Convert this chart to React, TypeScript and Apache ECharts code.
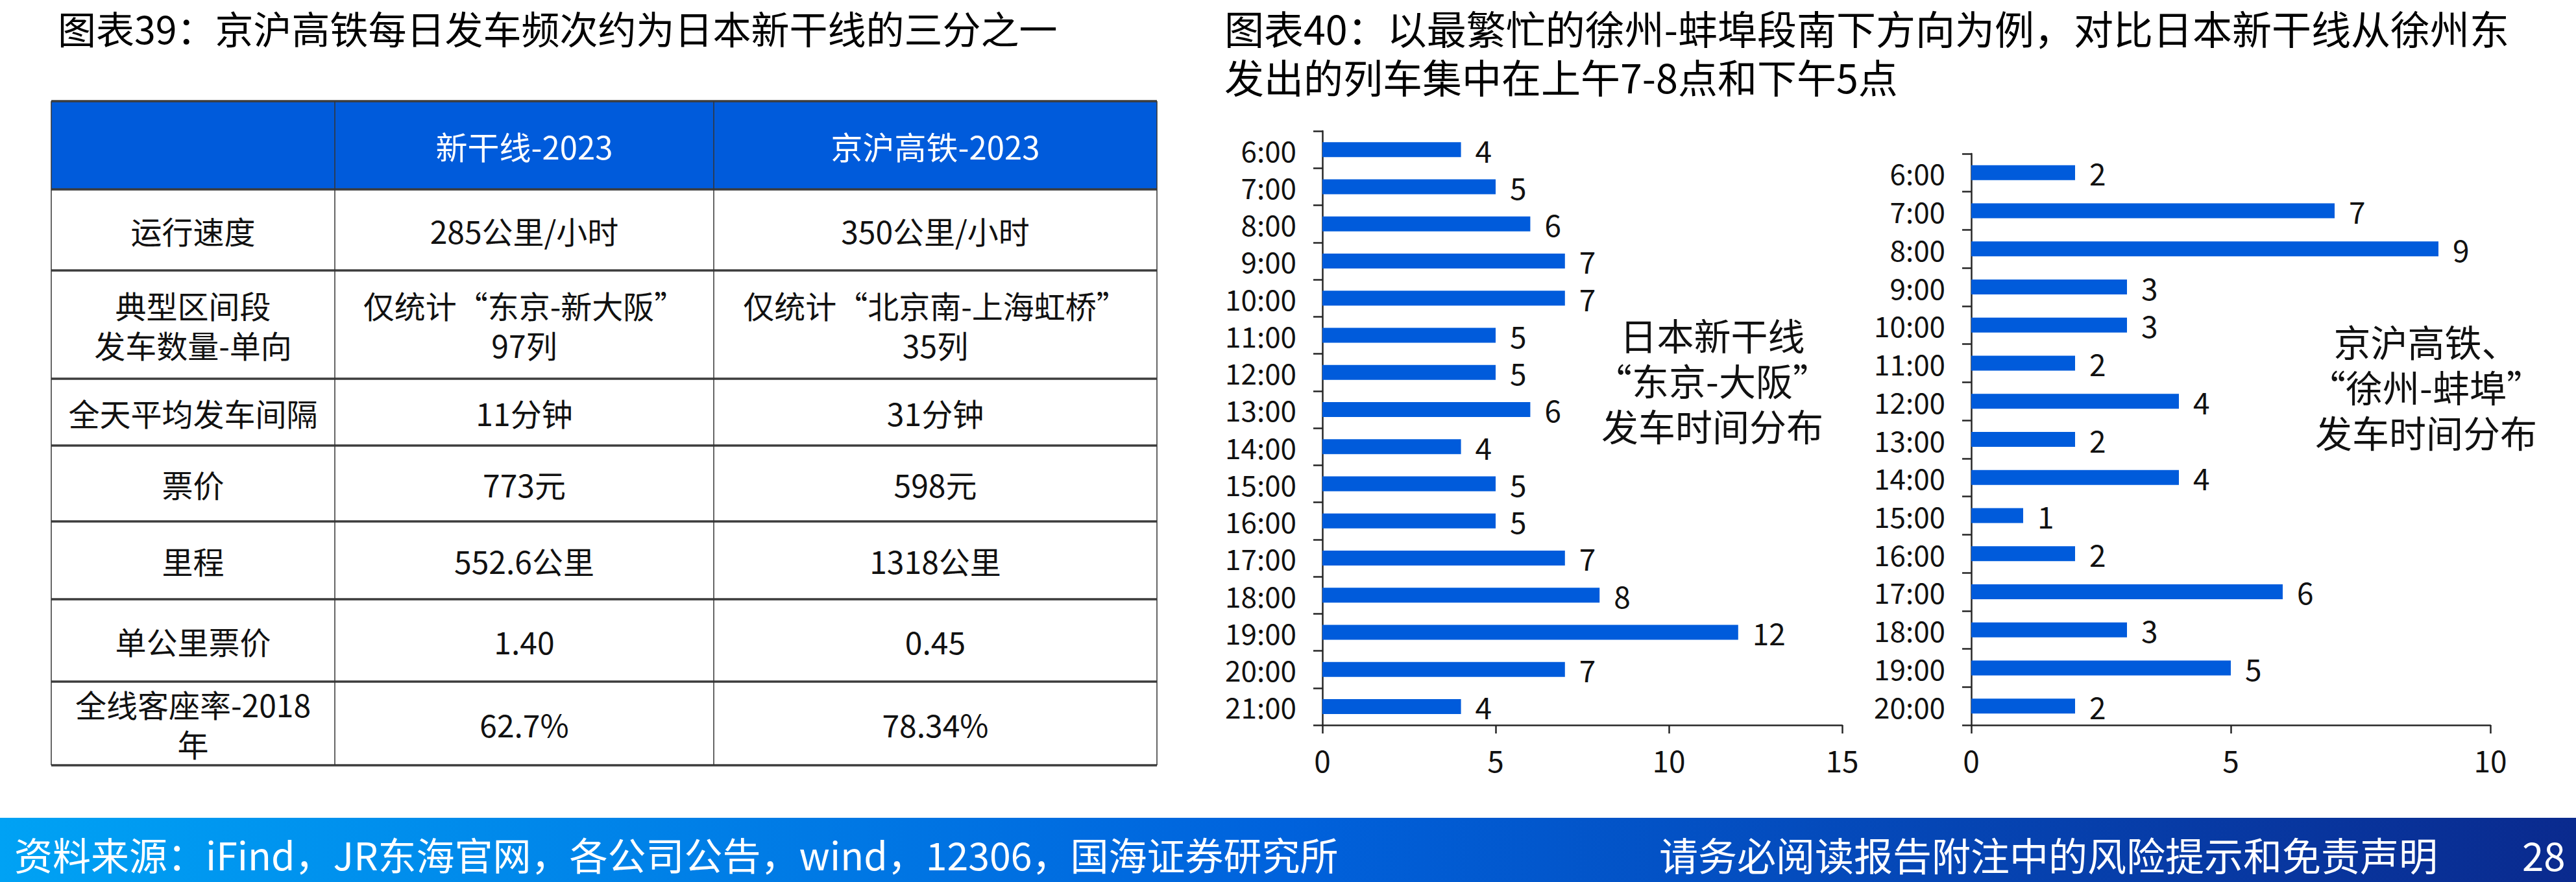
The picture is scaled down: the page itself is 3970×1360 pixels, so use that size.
import React, { useEffect, useRef } from 'react';
import * as echarts from 'echarts';

const titleLeft = '图表39：京沪高铁每日发车频次约为日本新干线的三分之一';
const titleRightLines = [
  '图表40：以最繁忙的徐州-蚌埠段南下方向为例，对比日本新干线从徐州东',
  '发出的列车集中在上午7-8点和下午5点',
];

const tableHeader = ['', '新干线-2023', '京沪高铁-2023'];
const tableRowLabels = [
  '运行速度',
  '典型区间段\n发车数量-单向',
  '全天平均发车间隔',
  '票价',
  '里程',
  '单公里票价',
  '全线客座率-2018\n年',
];
const shinkansenColumn = ['285公里/小时', '仅统计“东京-新大阪”\n97列', '11分钟', '773元', '552.6公里', '1.40', '62.7%'];
const jinghuColumn = ['350公里/小时', '仅统计“北京南-上海虹桥”\n35列', '31分钟', '598元', '1318公里', '0.45', '78.34%'];

const shinkansenHours = ['6:00', '7:00', '8:00', '9:00', '10:00', '11:00', '12:00', '13:00', '14:00', '15:00', '16:00', '17:00', '18:00', '19:00', '20:00', '21:00'];
const shinkansenTrains = [4, 5, 6, 7, 7, 5, 5, 6, 4, 5, 5, 7, 8, 12, 7, 4];
const jinghuHours = ['6:00', '7:00', '8:00', '9:00', '10:00', '11:00', '12:00', '13:00', '14:00', '15:00', '16:00', '17:00', '18:00', '19:00', '20:00'];
const jinghuTrains = [2, 7, 9, 3, 3, 2, 4, 2, 4, 1, 2, 6, 3, 5, 2];

const annotationLeft = ['日本新干线', '“东京-大阪”', '发车时间分布'];
const annotationRight = ['京沪高铁、', '“徐州-蚌埠”', '发车时间分布'];
const footerSource = '资料来源：iFind，JR东海官网，各公司公告，wind，12306，国海证券研究所';
const footerNotice = '请务必阅读报告附注中的风险提示和免责声明';
const pageNumber = '28';

const FONT = '"Noto Sans CJK SC", "Noto Sans", sans-serif';
const BLUE = '#005BDB';

function txt(text: string, x: number, y: number, size: number, fill: string, align = 'center', vAlign = 'middle') {
  return {
    type: 'text',
    silent: true,
    style: {
      text,
      x,
      y,
      fill,
      fontSize: size,
      fontFamily: FONT,
      align,
      textAlign: align,
      verticalAlign: vAlign,
      textVerticalAlign: vAlign,
      lineHeight: size,
    },
  };
}

// multi-line text as separate line elements centred on y
function multi(text: string, x: number, y: number, size: number, fill: string, spacing: number) {
  const lines = text.split('\n');
  const start = y - ((lines.length - 1) * spacing) / 2;
  return lines.map((l, i) => txt(l, x, start + i * spacing, size, fill));
}

function buildTable() {
  const colX = [79, 516, 1100, 1783];
  const rowY = [156, 292, 417, 584, 687, 804, 924, 1051, 1180];
  const els: any[] = [];
  els.push({
    type: 'rect',
    silent: true,
    shape: { x: colX[0], y: rowY[0], width: colX[3] - colX[0], height: rowY[1] - rowY[0] },
    style: { fill: BLUE },
  });
  rowY.forEach((y) => {
    els.push({
      type: 'line',
      silent: true,
      shape: { x1: colX[0], y1: y, x2: colX[3], y2: y },
      style: { stroke: '#3c3c3c', lineWidth: 3.5 },
    });
  });
  colX.forEach((x) => {
    els.push({
      type: 'line',
      silent: true,
      shape: { x1: x, y1: rowY[0], x2: x, y2: rowY[rowY.length - 1] },
      style: { stroke: '#333', lineWidth: 1.5 },
    });
  });
  const cx = [(colX[0] + colX[1]) / 2, (colX[1] + colX[2]) / 2, (colX[2] + colX[3]) / 2];
  tableHeader.forEach((h, i) => {
    if (h) els.push(txt(h, cx[i], (rowY[0] + rowY[1]) / 2, 49, '#ffffff'));
  });
  tableRowLabels.forEach((label, r) => {
    const cy = (rowY[r + 1] + rowY[r + 2]) / 2;
    els.push(...multi(label, cx[0], cy, 48, '#111', 61));
    els.push(...multi(shinkansenColumn[r], cx[1], cy, 48, '#111', 61));
    els.push(...multi(jinghuColumn[r], cx[2], cy, 48, '#111', 61));
  });
  return els;
}

function buildDecor() {
  const els: any[] = [];
  els.push(txt(titleLeft, 89, 42, 59, '#000', 'left', 'middle'));
  titleRightLines.forEach((line, i) => {
    els.push(txt(line, 1887, 42 + i * 75, 61, '#000', 'left', 'middle'));
  });
  els.push(...multi(annotationLeft.join('\n'), 2639, 585, 57, '#111', 70));
  els.push(...multi(annotationRight.join('\n'), 3739, 595, 57, '#111', 70));
  els.push({
    type: 'rect',
    silent: true,
    shape: { x: 0, y: 1261, width: 3970, height: 99 },
    style: {
      fill: {
        type: 'linear',
        x: 0,
        y: 0,
        x2: 1,
        y2: 0,
        colorStops: [
          { offset: 0, color: '#00A2F4' },
          { offset: 0.5, color: '#0062DC' },
          { offset: 1, color: '#0A2A8E' },
        ],
      },
    },
  });
  els.push(txt(footerSource, 22, 1316, 59, '#ffffff', 'left', 'middle'));
  els.push(txt(footerNotice, 2557, 1316, 60, '#ffffff', 'left', 'middle'));
  els.push(txt(pageNumber, 3887, 1316, 60, '#ffffff', 'left', 'middle'));
  return els;
}

const axisLineStyle = { color: '#262626', width: 2.5 };

export default function App() {
  const ref = useRef<HTMLDivElement>(null);
  useEffect(() => {
    if (!ref.current) return;
    const chart = echarts.init(ref.current, undefined, { renderer: 'svg' });
    const catAxis = (data: string[], gridIndex: number) => ({
      type: 'category',
      gridIndex,
      data,
      inverse: true,
      axisLine: { lineStyle: axisLineStyle },
      axisTick: { show: true, length: 14, lineStyle: axisLineStyle },
      axisLabel: { interval: 0, fontSize: 44, color: '#111', fontFamily: FONT, margin: 40 },
      splitLine: { show: false },
    });
    const valAxis = (max: number, gridIndex: number) => ({
      type: 'value',
      gridIndex,
      min: 0,
      max,
      interval: 5,
      axisLine: { show: true, lineStyle: axisLineStyle },
      axisTick: { show: true, length: 13, lineStyle: axisLineStyle },
      axisLabel: { fontSize: 46, color: '#111', fontFamily: FONT, margin: 30 },
      splitLine: { show: false },
    });
    const barSeries = (data: number[], idx: number) => ({
      type: 'bar',
      xAxisIndex: idx,
      yAxisIndex: idx,
      data,
      barWidth: 23,
      itemStyle: { color: BLUE },
      label: { show: true, position: 'right', distance: 22, fontSize: 46, color: '#111', fontFamily: FONT },
    });
    chart.setOption({
      animation: false,
      backgroundColor: '#ffffff',
      textStyle: { fontFamily: FONT },
      grid: [
        { left: 2038, top: 202, width: 801, height: 916 },
        { left: 3038, top: 237, width: 800, height: 881 },
      ],
      xAxis: [valAxis(15, 0), valAxis(10, 1)],
      yAxis: [catAxis(shinkansenHours, 0), catAxis(jinghuHours, 1)],
      series: [barSeries(shinkansenTrains, 0), barSeries(jinghuTrains, 1)],
      graphic: [...buildTable(), ...buildDecor()],
    });
    return () => chart.dispose();
  }, []);
  return (
    <div
      ref={ref}
      style={{ position: 'absolute', left: 0, top: 0, width: 3970, height: 1360, background: '#fff' }}
    />
  );
}
